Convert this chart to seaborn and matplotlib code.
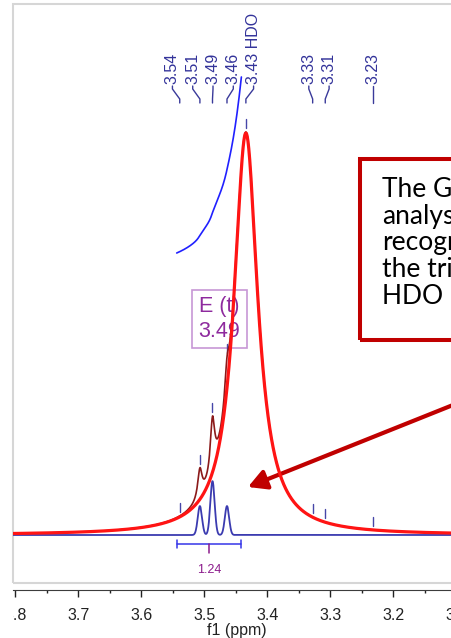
import matplotlib
matplotlib.use("Agg")
import matplotlib.pyplot as plt
import numpy as np
import seaborn as sns
from matplotlib.patches import Rectangle
from matplotlib.ticker import MultipleLocator
from matplotlib.transforms import Bbox

# values (ppm; heights relative to the HDO peak = 1)
hdo_center = 3.434
hdo_hwhm = 0.0228
hdo_height = 1.0

triplet_centers = [3.507, 3.487, 3.464]
triplet_heights = [0.072, 0.134, 0.072]
triplet_sigma = 0.0034      # GSD peaks (blue)
triplet_hwhm = 0.0042       # experimental spectrum

peak_ppm = [3.539, 3.507, 3.487, 3.464, 3.434, 3.328, 3.308, 3.232]
peak_labels = ["3.54", "3.51", "3.49", "3.46", "3.43 HDO", "3.33", "3.31", "3.23"]

integral_range = [3.544, 3.441]
integral_value = "1.24"
multiplet_label = ["E (t)", "3.49"]

x_ticks = [3.8, 3.7, 3.6, 3.5, 3.4, 3.3, 3.2, 3.1]
note_lines = ["The GSD", "analysis", "recognizes", "the triplet under", "HDO peak."]

sns.set_style("ticks")
plt.rcParams["font.family"] = ["Liberation Sans", "DejaVu Sans"]

W, H = 451, 638
px = 1 / 402  # one pixel in intensity units


def lorentz(x, c, w, h):
    return h / (1 + ((x - c) / w) ** 2)


def gauss(x, c, s, h):
    return h * np.exp(-0.5 * ((x - c) / s) ** 2)


def spread_labels(pos, gap):
    clusters = []
    for p in pos:
        if clusters and clusters[-1][-1] - p < gap:
            clusters[-1].append(p)
        else:
            clusters.append([p])
    out = []
    for cl in clusters:
        mid = np.mean(cl)
        n = len(cl)
        out += [mid + gap * ((n - 1) / 2 - i) for i in range(n)]
    return out


ppm = np.linspace(3.81, 3.09, 2400)
hdo = lorentz(ppm, hdo_center, hdo_hwhm, hdo_height)
gsd = sum(gauss(ppm, c, triplet_sigma, h) for c, h in zip(triplet_centers, triplet_heights))
spectrum = hdo + sum(lorentz(ppm, c, triplet_hwhm, h) for c, h in zip(triplet_centers, triplet_heights))

fig = plt.figure(figsize=(W / 100, H / 100), dpi=100)
ax = fig.add_axes([13 / W, 55 / H, 447 / W, 579 / H])
ax.set_xlim(3.8037, 3.0941)
ax.set_ylim(-48 * px, 531 * px)

# grey frame of the plot area
ax.add_patch(Rectangle((0, 0), 1.2, 1, transform=ax.transAxes, clip_on=False,
                       fill=False, ec="#d6d6d6", lw=1.5, zorder=0))

# spectrum, GSD peaks
sns.lineplot(x=ppm, y=spectrum, ax=ax, color="#8b1a1a", linewidth=1.2, zorder=3)
sns.lineplot(x=ppm, y=gsd, ax=ax, color="#3b3bb0", linewidth=1.3, zorder=3)
sns.lineplot(x=ppm, y=hdo, ax=ax, color="#ff1414", linewidth=2.3, zorder=4)

# integral
mask = (ppm <= integral_range[0]) & (ppm >= integral_range[1])
cum = np.cumsum(spectrum[mask])
cum = (cum - cum[0]) / (cum[-1] - cum[0])
sns.lineplot(x=ppm[mask], y=282 * px + 176 * px * cum, ax=ax, color="#2020ff",
             linewidth=1.2, zorder=3)

bar_y = -9 * px
ax.plot(integral_range, [bar_y, bar_y], color="#3535e8", lw=1.1)
for e in integral_range:
    ax.plot([e, e], [bar_y - 4 * px, bar_y + 4 * px], color="#3535e8", lw=1.1)
mid = np.mean(integral_range)
ax.plot([mid, mid], [bar_y, bar_y - 9 * px], color="#8b1a8b", lw=1.1)
ax.text(mid, -35 * px, integral_value, ha="center", va="center", fontsize=9,
        color="#8b1a8b")

# multiplet box
ax.text(3.476, 216 * px, "\n".join(multiplet_label), ha="center", va="center",
        multialignment="center", fontsize=15.5, color="#8e2a9e", linespacing=1.2,
        bbox=dict(boxstyle="square,pad=0.3", fc="none", ec="#c797d6", lw=1.2),
        zorder=2)

# peak picking labels and connectors
label_pos = spread_labels(peak_ppm, 0.0322)
spec_at = np.interp(peak_ppm, ppm[::-1], spectrum[::-1])
for p, lp, lab, s in zip(peak_ppm, label_pos, peak_labels, spec_at):
    ax.plot([lp, lp, p, p], [449 * px, 446 * px, 436 * px, 432 * px],
            color="#3a3a9a", lw=1.0)
    ax.plot([p, p], [s + 4 * px, s + 13 * px], color="#4646a8", lw=1.0, zorder=2)
    ax.text(lp, 451 * px, lab, rotation=90, ha="center", va="bottom",
            fontsize=11.5, color="#33339a")

# x axis
for side in ["top", "right", "left"]:
    ax.spines[side].set_visible(False)
ax.spines["bottom"].set_position(("outward", 5))
ax.spines["bottom"].set_color("#3c3c3c")
ax.set_yticks([])
ax.set_xticks(x_ticks)
ax.set_xticklabels([f"{t:.1f}" for t in x_ticks])
ax.xaxis.set_minor_locator(MultipleLocator(0.05))
ax.tick_params(axis="x", which="major", length=5, width=1, pad=8, labelsize=11.5,
               colors="#222222")
ax.tick_params(axis="x", which="minor", length=2.5, width=1, colors="#222222")
ax.set_xlabel("f1 (ppm)", fontsize=11.5, labelpad=0, color="#222222")
clip = Bbox.from_extents(13, 0, W, H)
for lab in ax.get_xticklabels():
    lab.set_clip_box(clip)
    lab.set_clip_on(True)

# callout
fig.add_artist(Rectangle((360 / W, (H - 340) / H), 130 / W, (340 - 159) / H,
                         transform=fig.transFigure, fill=False, ec="#c00000", lw=2.9))
for i, line in enumerate(note_lines):
    fig.text(382 / W, (H - 197 - 26.7 * i) / H, line, fontsize=19, family="Lato",
             va="baseline", ha="left", color="black")
ax.annotate("", xy=(248, H - 487), xycoords="figure pixels",
            xytext=(478, H - 395), textcoords="figure pixels", annotation_clip=False,
            arrowprops=dict(arrowstyle="-|>,head_length=1.1,head_width=0.6",
                            mutation_scale=10, color="#c00000", lw=3,
                            shrinkA=0, shrinkB=0))

fig.savefig("out.png", dpi=100, facecolor="white")
